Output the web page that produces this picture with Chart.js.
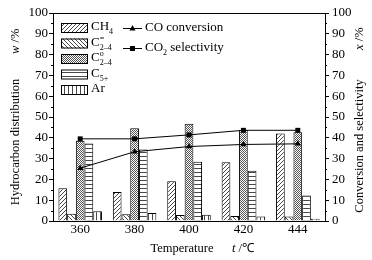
<!DOCTYPE html>
<html>
<head>
<meta charset="utf-8">
<script src="https://cdn.jsdelivr.net/npm/chart.js@4/dist/chart.umd.min.js"></script>
<style>
  html, body { margin: 0; padding: 0; background: #fff; }
  #wrap { width: 372px; height: 260px; position: relative; }
</style>
</head>
<body>
<div id="wrap"><canvas id="myChart"></canvas></div>
<script>
const temperatures = ["360", "380", "400", "420", "444"];
const ch4 = [15.8, 14.0, 19.1, 28.2, 42.1];
const c24Olefin = [3.5, 3.2, 2.9, 2.4, 2.2];
const c24Paraffin = [38.6, 44.6, 46.7, 43.7, 42.7];
const c5Plus = [37.3, 34.4, 28.5, 24.1, 12.3];
const ar = [4.7, 3.8, 3.0, 2.2, 1.1];
const coConversion = [25.4, 33.3, 35.8, 36.8, 37.1];
const co2Selectivity = [39.5, 39.5, 41.4, 43.6, 43.6];
const yTicks = [0, 10, 20, 30, 40, 50, 60, 70, 80, 90, 100];

const FONT = '"Liberation Serif", "Times New Roman", serif';

function makePattern(kind) {
  const c = document.createElement("canvas");
  const n = kind === "checker" ? 2 : 4;
  c.width = n;
  c.height = n;
  const g = c.getContext("2d");
  g.fillStyle = "#fff";
  g.fillRect(0, 0, n, n);
  g.strokeStyle = "#333";
  g.lineWidth = 0.9;
  g.beginPath();
  if (kind === "slash") {
    g.moveTo(0, n); g.lineTo(n, 0);
    g.moveTo(-1, 1); g.lineTo(1, -1);
    g.moveTo(n - 1, n + 1); g.lineTo(n + 1, n - 1);
  } else if (kind === "back") {
    g.moveTo(0, 0); g.lineTo(n, n);
    g.moveTo(-1, n - 1); g.lineTo(1, n + 1);
    g.moveTo(n - 1, -1); g.lineTo(n + 1, 1);
  } else if (kind === "horiz") {
    g.moveTo(0, 0.5); g.lineTo(n, 0.5);
  } else if (kind === "vert") {
    g.moveTo(0.5, 0); g.lineTo(0.5, n);
  }
  g.stroke();
  if (kind === "checker") {
    g.fillStyle = "#555";
    g.fillRect(0, 0, 1, 1);
    g.fillRect(1, 1, 1, 1);
  }
  return g.createPattern(c, "repeat");
}

const barPatterns = {
  ch4: makePattern("slash"),
  c24Olefin: makePattern("back"),
  c24Paraffin: makePattern("checker"),
  c5Plus: makePattern("horiz"),
  ar: makePattern("vert"),
};

// draw text pieces with sub / superscripts
function drawRich(ctx, x, y, parts, size) {
  ctx.textBaseline = "middle";
  ctx.textAlign = "left";
  let cx = x;
  parts.forEach((p) => {
    if (p.sub || p.sup) {
      ctx.font = `${Math.round(size * 0.62)}px ${FONT}`;
      let w = 0;
      if (p.sup) {
        ctx.fillText(p.sup, cx, y - size * 0.3);
        w = ctx.measureText(p.sup).width;
      }
      if (p.sub) {
        ctx.fillText(p.sub, cx, y + size * 0.38);
        w = Math.max(w, ctx.measureText(p.sub).width);
      }
      cx += w;
    } else {
      ctx.font = `${p.italic ? "italic " : ""}${size}px ${FONT}`;
      ctx.fillText(p.t, cx, y);
      cx += ctx.measureText(p.t).width;
    }
  });
  return cx - x;
}

const legendBars = [
  { key: "ch4", parts: [{ t: "CH" }, { sub: "4" }] },
  { key: "c24Olefin", parts: [{ t: "C" }, { sup: "=", sub: "2–4" }] },
  { key: "c24Paraffin", parts: [{ t: "C" }, { sup: "o", sub: "2–4" }] },
  { key: "c5Plus", parts: [{ t: "C" }, { sub: "5+" }] },
  { key: "ar", parts: [{ t: "Ar" }] },
];

const decorPlugin = {
  id: "decor",
  afterDraw(chart) {
    const ctx = chart.ctx;
    const area = chart.chartArea;
    const y = chart.scales.y;
    ctx.save();
    ctx.strokeStyle = "#000";
    ctx.fillStyle = "#000";
    ctx.lineWidth = 1;

    // top border
    ctx.beginPath();
    ctx.moveTo(area.left, Math.round(area.top) + 0.5);
    ctx.lineTo(area.right, Math.round(area.top) + 0.5);
    ctx.stroke();

    // minor ticks
    ctx.beginPath();
    for (let v = 5; v < 100; v += 10) {
      const py = Math.round(y.getPixelForValue(v)) + 0.5;
      ctx.moveTo(area.left - 2, py); ctx.lineTo(area.left, py);
      ctx.moveTo(area.right, py); ctx.lineTo(area.right + 2, py);
    }
    ctx.stroke();

    // bar legend
    legendBars.forEach((item, i) => {
      const ly = 28 + i * 15.5;
      ctx.fillStyle = barPatterns[item.key];
      ctx.fillRect(61, ly - 5, 27, 10);
      ctx.strokeRect(61.5, ly - 4.5, 26, 9);
      ctx.fillStyle = "#000";
      drawRich(ctx, 91, ly - 1, item.parts, 13);
    });

    // line legend
    const lineItems = [
      { y: 28, marker: "tri", parts: [{ t: "CO conversion" }] },
      { y: 48, marker: "sq", parts: [{ t: "CO" }, { sub: "2" }, { t: " selectivity" }] },
    ];
    lineItems.forEach((it) => {
      ctx.beginPath();
      ctx.moveTo(123, it.y + 0.5);
      ctx.lineTo(142, it.y + 0.5);
      ctx.stroke();
      if (it.marker === "tri") {
        ctx.beginPath();
        ctx.moveTo(132.5, it.y - 3);
        ctx.lineTo(135.5, it.y + 2.5);
        ctx.lineTo(129.5, it.y + 2.5);
        ctx.closePath();
        ctx.fill();
      } else {
        ctx.fillRect(130, it.y - 2, 5, 5);
      }
      drawRich(ctx, 145, it.y, it.parts, 13);
    });

    // axis titles
    ctx.font = `12.5px ${FONT}`;
    ctx.textAlign = "center";
    ctx.textBaseline = "middle";
    ctx.fillText("Temperature", 182, 249);
    drawRich(ctx, 232, 249, [{ t: "t", italic: true }, { t: " /℃" }], 12.5);

    ctx.save();
    ctx.translate(16, 0);
    ctx.rotate(-Math.PI / 2);
    ctx.font = `12.5px ${FONT}`;
    ctx.textAlign = "center";
    ctx.fillText("Hydrocarbon distribution", -142, 0);
    drawRich(ctx, -54, 0, [{ t: "w", italic: true }, { t: " /%" }], 12.5);
    ctx.restore();

    ctx.save();
    ctx.translate(360, 0);
    ctx.rotate(-Math.PI / 2);
    ctx.font = `12.5px ${FONT}`;
    ctx.textAlign = "center";
    ctx.fillText("Conversion and selectivity", -146, 0);
    drawRich(ctx, -50, 0, [{ t: "x", italic: true }, { t: " /%" }], 12.5);
    ctx.restore();

    ctx.restore();
  },
};

function barSet(label, data, key) {
  return {
    type: "bar",
    label,
    data,
    backgroundColor: barPatterns[key],
    borderColor: "#000",
    borderWidth: 1,
    categoryPercentage: 0.8,
    barPercentage: 1.0,
    yAxisID: "y",
    order: 2,
  };
}

function lineSet(label, data, style) {
  return {
    type: "line",
    label,
    data,
    borderColor: "#000",
    backgroundColor: "#000",
    borderWidth: 1,
    pointStyle: style,
    pointRadius: 3.5,
    pointBorderWidth: 0,
    yAxisID: "y1",
    order: 1,
  };
}

const tickFont = { family: FONT, size: 13 };

const ctx = document.getElementById("myChart").getContext("2d");
new Chart(ctx, {
  data: {
    labels: temperatures,
    datasets: [
      lineSet("CO conversion", coConversion, "triangle"),
      lineSet("CO2 selectivity", co2Selectivity, "rect"),
      barSet("CH4", ch4, "ch4"),
      barSet("C2-4=", c24Olefin, "c24Olefin"),
      barSet("C2-4o", c24Paraffin, "c24Paraffin"),
      barSet("C5+", c5Plus, "c5Plus"),
      barSet("Ar", ar, "ar"),
    ],
  },
  options: {
    responsive: true,
    maintainAspectRatio: false,
    animation: false,
    layout: { padding: { top: 13, left: 0, right: 0, bottom: 0 } },
    plugins: {
      legend: { display: false },
      tooltip: { enabled: false },
    },
    scales: {
      x: {
        offset: true,
        grid: { display: false, drawTicks: false, tickLength: 0, offset: true },
        border: { display: true, color: "#000", width: 1 },
        ticks: { color: "#000", font: tickFont, padding: 1 },
        afterFit(scale) { scale.height = 39; },
      },
      y: {
        position: "left",
        min: 0,
        max: 100,
        afterBuildTicks(scale) { scale.ticks = yTicks.map((v) => ({ value: v })); },
        grid: { drawOnChartArea: false, color: "#000", tickLength: 4 },
        border: { display: true, color: "#000", width: 1 },
        ticks: { color: "#000", font: tickFont, padding: 1 },
        afterFit(scale) { scale.width = 53; },
      },
      y1: {
        position: "right",
        min: 0,
        max: 100,
        afterBuildTicks(scale) { scale.ticks = yTicks.map((v) => ({ value: v })); },
        grid: { drawOnChartArea: false, color: "#000", tickLength: 4 },
        border: { display: true, color: "#000", width: 1 },
        ticks: { color: "#000", font: tickFont, padding: 3 },
        afterFit(scale) { scale.width = 47; },
      },
    },
  },
  plugins: [decorPlugin],
});
</script>
</body>
</html>
